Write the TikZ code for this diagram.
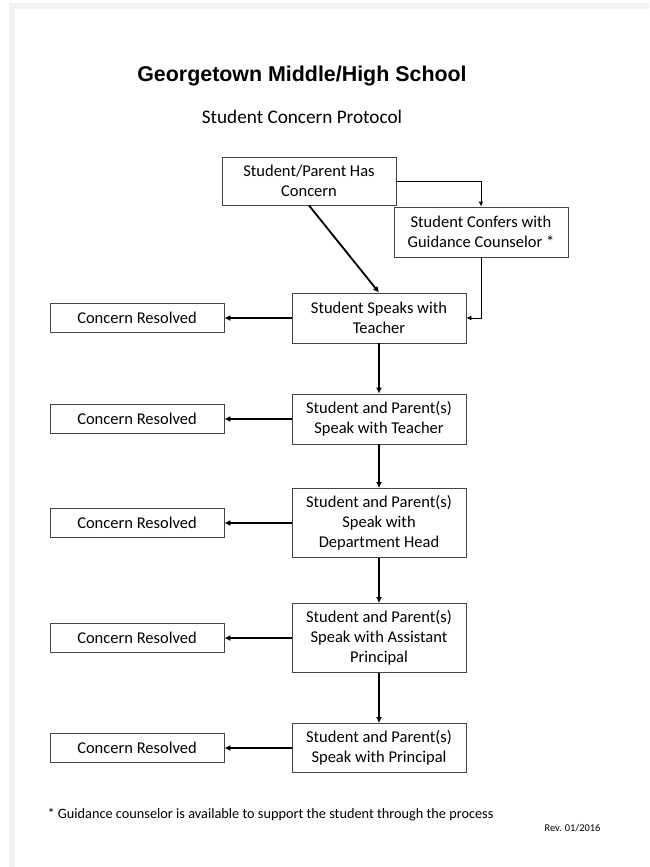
\documentclass[tikz,border=0pt]{standalone}
\usepackage{fontspec}
\setmainfont{Carlito}
\newfontfamily\titlefont{Liberation Sans}
\usetikzlibrary{arrows.meta}
\definecolor{pagegray}{HTML}{F2F2F2}
\definecolor{boxline}{HTML}{444444}
\tikzset{
  box/.style={draw=boxline, line width=0.9pt, fill=white, align=center,
    inner sep=0pt, minimum width=174pt, font=\fontsize{16.5}{20}\selectfont},
  rbox/.style={box, minimum height=29.5pt},
  thickarrow/.style={line width=1.8pt, -{Latex[length=6pt,width=6pt]}},
  thinarrow/.style={line width=0.9pt, -{Latex[length=5pt,width=5pt]}},
}
\begin{document}
\begin{tikzpicture}[x=1pt,y=-1pt]
\useasboundingbox (0,0) rectangle (649,867);
\fill[white] (0,0) rectangle (649,867);
\fill[pagegray] (9,3) rectangle (649,867);
\fill[white] (15,9) rectangle (649,867);

\node[font=\titlefont\bfseries\fontsize{21.4}{24}\selectfont] (title) at (302,76) {Georgetown Middle/High School};
\node[font=\fontsize{19.2}{22}\selectfont] (subtitle) at (302,117) {Student Concern Protocol};

\node[box, minimum height=48pt] (a) at (309,181) {Student/Parent Has\\Concern};
\node[box, minimum height=50pt] (b) at (481,232) {Student Confers with\\Guidance Counselor *};
\node[box, minimum height=50pt] (c) at (379,318) {Student Speaks with\\Teacher};
\node[box, minimum height=50pt] (d) at (379,419) {Student and Parent(s)\\Speak with Teacher};
\node[box, minimum height=69pt] (e) at (379,523) {Student and Parent(s)\\Speak with\\Department Head};
\node[box, minimum height=69pt] (f) at (379,638) {Student and Parent(s)\\Speak with Assistant\\Principal};
\node[box, minimum height=49pt] (g) at (379,748) {Student and Parent(s)\\Speak with Principal};

\node[rbox] (r1) at (137,318) {Concern Resolved};
\node[rbox] (r2) at (137,419) {Concern Resolved};
\node[rbox] (r3) at (137,523) {Concern Resolved};
\node[rbox] (r4) at (137,638) {Concern Resolved};
\node[rbox] (r5) at (137,748) {Concern Resolved};

\draw[thinarrow] (a.east) -| (b.north);
\draw[thinarrow] (b.south) |- (c.east);
\draw[thickarrow] (a.south) -- (c.north);
\draw[thickarrow] (c) -- (d);
\draw[thickarrow] (d) -- (e);
\draw[thickarrow] (e) -- (f);
\draw[thickarrow] (f) -- (g);
\draw[thickarrow] (c) -- (r1);
\draw[thickarrow] (d) -- (r2);
\draw[thickarrow] (e) -- (r3);
\draw[thickarrow] (f) -- (r4);
\draw[thickarrow] (g) -- (r5);

\node[anchor=west, font=\fontsize{14.3}{17}\selectfont] (note) at (44,815) {* Guidance counselor is available to support the student through the process};
\node[anchor=east, font=\fontsize{10.4}{12}\selectfont] (rev) at (604,828) {Rev. 01/2016};
\end{tikzpicture}
\end{document}
